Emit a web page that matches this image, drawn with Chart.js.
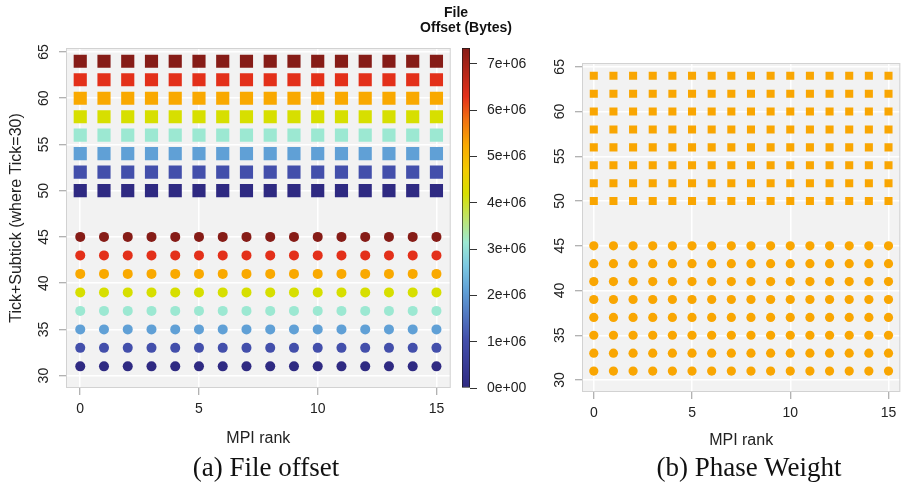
<!DOCTYPE html>
<html>
<head>
<meta charset="utf-8">
<script src="https://cdn.jsdelivr.net/npm/chart.js@4.4.1/dist/chart.umd.min.js"></script>
<style>
  body { margin: 0; background: #fff; width: 906px; height: 487px; overflow: hidden; position: relative;
         font-family: "Liberation Sans", Arial, sans-serif; }
  canvas { position: absolute; top: 0; }
  .cbtitle { position: absolute; width: 200px; text-align: center; font-weight: bold; font-size: 14px;
             line-height: 16px; color: #111; }
  .cap { position: absolute; width: 300px; text-align: center; font-family: "Liberation Serif", serif;
         font-size: 27px; line-height: 30px; top: 452px; color: #111; }
</style>
</head>
<body>
<canvas id="offsetChart" width="460" height="460" style="left:0"></canvas>
<canvas id="colorBar" width="110" height="460" style="left:455px"></canvas>
<canvas id="weightChart" width="386" height="460" style="left:520px"></canvas>
<div class="cbtitle" style="left:356px;top:4px">File</div>
<div class="cbtitle" style="left:366px;top:19px">Offset (Bytes)</div>
<div class="cap" style="left:116px">(a) File offset</div>
<div class="cap" style="left:599px">(b) Phase Weight</div>
<script>
// MPI ranks on the x axis
const ranks = [0, 1, 2, 3, 4, 5, 6, 7, 8, 9, 10, 11, 12, 13, 14, 15];
// Tick+Subtick rows: squares (upper block) and circles (lower block)
const squareRows = [50, 52, 54, 56, 58, 60, 62, 64];
const circleRows = [31, 33, 35, 37, 39, 41, 43, 45];
// file offset (bytes) of each row, same for every rank
const rowOffsets = [0, 1048576, 2097152, 3145728, 4194304, 5242880, 6291456, 7340032];
const offsetMax = 7340032;
// ticks of the colour bar
const barTicks = [0, 1000000, 2000000, 3000000, 4000000, 5000000, 6000000, 7000000];

// colour scale of the legend bar (fraction of max -> colour)
const palette = [
  [0, '#2f2a82'], [1 / 7, '#434fab'], [2 / 7, '#60a0d6'], [0.36, '#7cc9e2'],
  [3 / 7, '#9ce8d2'], [0.5, '#bfe36a'], [4 / 7, '#d7df00'], [0.64, '#f3cb00'],
  [5 / 7, '#f9a900'], [0.79, '#f07011'], [6 / 7, '#e3301a'], [1, '#861c17']
];

const FONT = '"Liberation Sans", Arial, sans-serif';
const TXT = '#222';

function hexRgb(h) {
  return [parseInt(h.substr(1, 2), 16), parseInt(h.substr(3, 2), 16), parseInt(h.substr(5, 2), 16)];
}
function colourFor(v) {
  const t = v / offsetMax;
  for (let i = 1; i < palette.length; i++) {
    if (t <= palette[i][0] + 1e-9) {
      const [p0, c0] = palette[i - 1], [p1, c1] = palette[i];
      const f = (t - p0) / (p1 - p0);
      const a = hexRgb(c0), b = hexRgb(c1);
      return 'rgb(' + a.map((x, k) => Math.round(x + (b[k] - x) * f)).join(',') + ')';
    }
  }
  return palette[palette.length - 1][1];
}

function gridPoints(rows) {
  let pts = [];
  rows.forEach((r, i) => {
    ranks.forEach(rank => pts.push({ x: rank, y: r, v: rowOffsets[i] }));
  });
  return pts;
}

const panel = {
  id: 'panel',
  beforeDraw(chart) {
    const { ctx, chartArea: a } = chart;
    ctx.save();
    ctx.fillStyle = '#f2f2f2';
    ctx.fillRect(a.left, a.top, a.width, a.height);
    ctx.restore();
  },
  beforeDatasetsDraw(chart) {
    const { ctx, chartArea: a } = chart;
    ctx.save();
    ctx.strokeStyle = '#d2d2d2';
    ctx.lineWidth = 1;
    ctx.strokeRect(a.left + 0.5, a.top + 0.5, a.width - 1, a.height - 1);
    ctx.restore();
  }
};

function scatterScales(yWidth, xHeight, yTitle, xTitlePad) {
  return {
    x: {
      type: 'linear', min: -0.6, max: 15.6,
      afterFit(s) { s.height = xHeight; },
      ticks: { stepSize: 5, includeBounds: false, padding: 6, color: TXT, font: { family: FONT, size: 14 } },
      grid: { color: '#ffffff', lineWidth: 1.5, tickColor: '#999', tickWidth: 1, tickLength: 7 },
      border: { display: false },
      title: { display: true, text: 'MPI rank', color: TXT, font: { family: FONT, size: 16 },
               padding: { top: 0, bottom: xTitlePad } }
    },
    y: {
      type: 'linear', min: 28.66, max: 65.43,
      afterFit(s) { s.width = yWidth; },
      ticks: { stepSize: 5, includeBounds: false, minRotation: 90, maxRotation: 90, crossAlign: 'center',
               padding: 7, color: TXT, font: { family: FONT, size: 14 } },
      grid: { color: '#ffffff', lineWidth: 1.5, tickColor: '#999', tickWidth: 1, tickLength: 7 },
      border: { display: false },
      title: { display: !!yTitle, text: yTitle, color: TXT, font: { family: FONT, size: 16 },
               padding: { top: 7, bottom: 0 } }
    }
  };
}

// (a) file offset
new Chart(document.getElementById('offsetChart'), {
  type: 'scatter',
  data: {
    datasets: [
      { data: gridPoints(squareRows), pointStyle: 'rect', pointRadius: 9.3, borderWidth: 0,
        backgroundColor: c => c.raw ? colourFor(c.raw.v) : '#000' },
      { data: gridPoints(circleRows), pointStyle: 'circle', pointRadius: 5, borderWidth: 0,
        backgroundColor: c => c.raw ? colourFor(c.raw.v) : '#000' }
    ]
  },
  options: {
    responsive: false, animation: false,
    layout: { padding: { left: 0, right: 8, top: 48, bottom: 0 } },
    plugins: { legend: { display: false }, tooltip: { enabled: false } },
    scales: scatterScales(66, 72, 'Tick+Subtick (where Tick=30)', 12)
  },
  plugins: [panel]
});

// colour bar
new Chart(document.getElementById('colorBar'), {
  type: 'bar',
  data: {
    labels: [''],
    datasets: [{
      data: [offsetMax], borderColor: '#1a1a1a', borderWidth: 1, borderSkipped: false,
      barPercentage: 1, categoryPercentage: 1,
      backgroundColor(c) {
        const { ctx, chartArea } = c.chart;
        if (!chartArea) return null;
        const g = ctx.createLinearGradient(0, chartArea.bottom, 0, chartArea.top);
        palette.forEach(([p, col]) => g.addColorStop(p, col));
        return g;
      }
    }]
  },
  options: {
    responsive: false, animation: false,
    layout: { padding: { left: 7, right: 0, top: 48, bottom: 72 } },
    plugins: { legend: { display: false }, tooltip: { enabled: false } },
    scales: {
      x: { display: false },
      y: {
        position: 'right', min: 0, max: offsetMax,
        afterFit(s) { s.width = 95; },
        afterBuildTicks(s) { s.ticks = barTicks.map(v => ({ value: v })); },
        ticks: {
          padding: 10, color: TXT, font: { family: FONT, size: 14 },
          callback(v) {
            const [m, e] = v.toExponential().split('e');
            return m + 'e' + e[0] + e.slice(1).padStart(2, '0');
          }
        },
        grid: { drawOnChartArea: false, tickLength: 7, tickColor: '#333', tickWidth: 1 },
        border: { display: false }
      }
    }
  }
});

// (b) phase weight
const weightColour = '#f9a602';
new Chart(document.getElementById('weightChart'), {
  type: 'scatter',
  data: {
    datasets: [
      { data: gridPoints(squareRows), pointStyle: 'rect', pointRadius: 5.7, borderWidth: 0, backgroundColor: weightColour },
      { data: gridPoints(circleRows), pointStyle: 'circle', pointRadius: 4.6, borderWidth: 0, backgroundColor: weightColour }
    ]
  },
  options: {
    responsive: false, animation: false,
    layout: { padding: { left: 0, right: 4, top: 63, bottom: 0 } },
    plugins: { legend: { display: false }, tooltip: { enabled: false } },
    scales: scatterScales(62, 68, '', 10)
  },
  plugins: [panel]
});
</script>
</body>
</html>
